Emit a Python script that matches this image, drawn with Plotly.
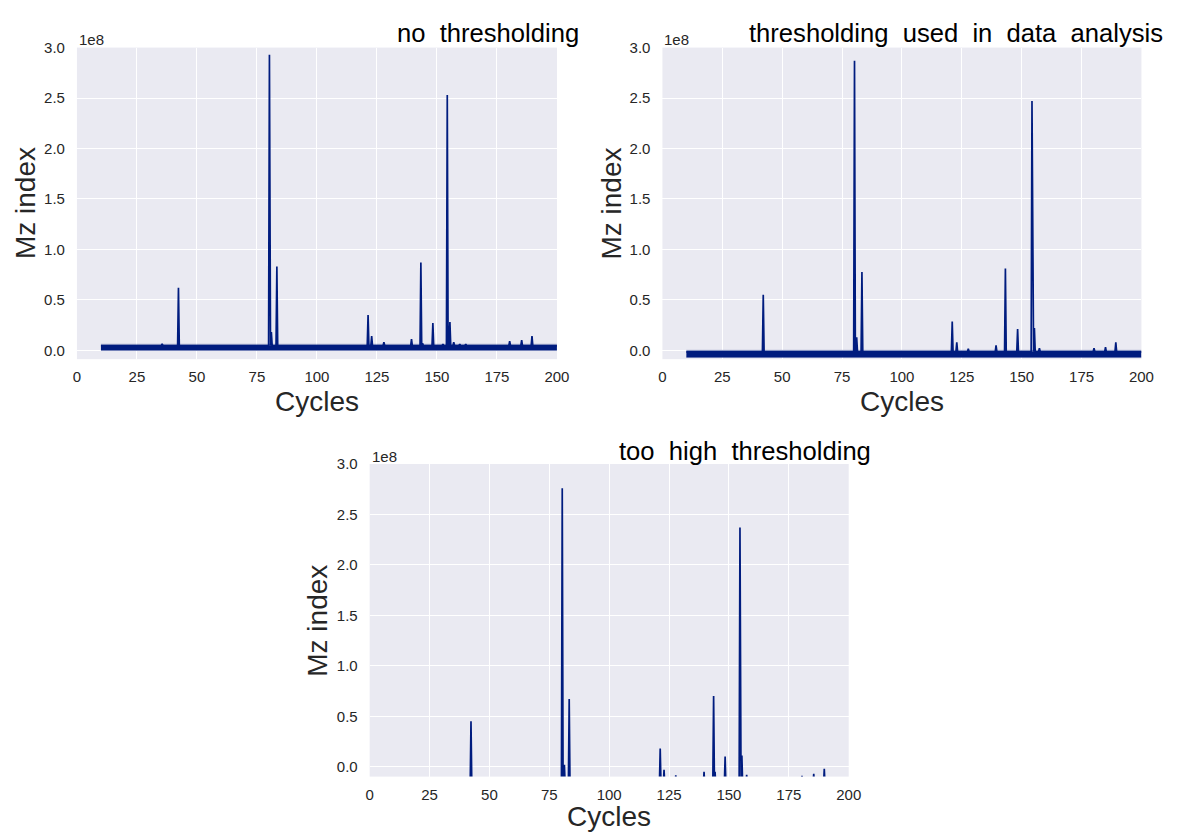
import plotly.graph_objects as go

# ---------------- data ----------------
TITLES = ["no \u00a0thresholding",
          "thresholding \u00a0used \u00a0in \u00a0data \u00a0analysis",
          "too \u00a0high \u00a0thresholding"]

X_TICKS = [0, 25, 50, 75, 100, 125, 150, 175, 200]
Y_TICKS = [0.0, 0.5e8, 1.0e8, 1.5e8, 2.0e8, 2.5e8, 3.0e8]
Y_TICK_TEXT = ["0.0", "0.5", "1.0", "1.5", "2.0", "2.5", "3.0"]

START_CYCLE = 10
END_CYCLE = 200

# panel 1: no thresholding
P1_CYCLES = [35.5, 42.3, 80.2, 81.0, 83.3, 121.3, 122.8, 127.9, 139.4, 143.3, 144.0,
             148.3, 152.5, 154.3, 155.4, 157.0, 159.5, 162.0, 180.3, 185.3, 189.6]
P1_VALUES = [0.065e8, 0.62e8, 2.93e8, 0.18e8, 0.83e8, 0.35e8, 0.14e8, 0.08e8, 0.11e8,
             0.87e8, 0.07e8, 0.27e8, 0.06e8, 2.53e8, 0.28e8, 0.08e8, 0.06e8, 0.06e8,
             0.09e8, 0.10e8, 0.14e8]
P1_BAND = [0.0, 0.045e8, 0.06e8]     # dark band bottom, dark band top, light top

# panel 2: thresholding used in data analysis
P2_CYCLES = [42.1, 80.2, 81.1, 83.3, 121.0, 122.9, 127.7, 139.3, 143.2, 148.3,
             154.3, 155.3, 157.4, 180.2, 185.0, 189.3]
P2_VALUES = [0.55e8, 2.87e8, 0.13e8, 0.775e8, 0.285e8, 0.08e8, 0.015e8, 0.05e8,
             0.81e8, 0.21e8, 2.47e8, 0.22e8, 0.02e8, 0.02e8, 0.03e8, 0.08e8]
P2_BAND = [-0.07e8, -0.015e8, 0.0]

# panel 3: too high thresholding
P3_CYCLES = [42.3, 80.4, 81.3, 83.3, 121.3, 122.9, 127.8, 139.6, 143.6, 144.2,
             148.4, 154.6, 155.4, 157.4, 180.5, 185.4, 189.8]
P3_VALUES = [0.45e8, 2.76e8, 0.02e8, 0.67e8, 0.18e8, -0.03e8, -0.085e8, -0.05e8,
             0.70e8, -0.05e8, 0.10e8, 2.37e8, 0.11e8, -0.08e8, -0.09e8, -0.07e8,
             -0.02e8]
P3_BASE = -0.2e8

# ---------------- style ----------------
W, H = 1185, 832
NAVY = "#001c7f"
BG = "#eaeaf2"
TXT = "#262626"
FONT = "Liberation Sans, Arial, sans-serif"
HALF = 0.35   # half width of a spike in cycles

# plot areas in pixels: (left, right, top, bottom)
AREAS = [(74, 561, 39, 354), (668, 1154, 39, 354), (371, 857, 460, 776)]
YRANGES = [[-0.088e8, 3.0e8], [-0.088e8, 3.0e8], [-0.098e8, 3.0e8]]
TITLE_POS = [(585, 24), (1178, 24), (882, 447)]
YLAB_X = [22, 616, 318]
XLAB_OFF = [43, 43, 40]


def spikes(cycles, values, base):
    xs, ys = [START_CYCLE], [base]
    for c, v in sorted(zip(cycles, values)):
        xs += [c - HALF, c, c + HALF]
        ys += [base, v, base]
    xs.append(END_CYCLE)
    ys.append(base)
    return xs, ys


fig = go.Figure()

panels = [(P1_CYCLES, P1_VALUES, P1_BAND), (P2_CYCLES, P2_VALUES, P2_BAND),
          (P3_CYCLES, P3_VALUES, None)]

for i, (cyc, val, band) in enumerate(panels):
    xa = "x" if i == 0 else f"x{i+1}"
    ya = "y" if i == 0 else f"y{i+1}"
    if band is not None:
        fig.add_trace(go.Scatter(x=[START_CYCLE, END_CYCLE], y=[band[0], band[0]],
                                 mode="lines", line=dict(color=NAVY, width=0.5),
                                 xaxis=xa, yaxis=ya, showlegend=False, hoverinfo="skip"))
        fig.add_trace(go.Scatter(x=[START_CYCLE, END_CYCLE], y=[band[1], band[1]],
                                 mode="lines", line=dict(color=NAVY, width=0.5),
                                 fill="tonexty", fillcolor=NAVY,
                                 xaxis=xa, yaxis=ya, showlegend=False, hoverinfo="skip"))
        fig.add_trace(go.Scatter(x=[START_CYCLE, END_CYCLE], y=[band[2], band[2]],
                                 mode="lines", line=dict(color="rgba(0,28,127,0.5)", width=0.5),
                                 fill="tonexty", fillcolor="rgba(0,28,127,0.45)",
                                 xaxis=xa, yaxis=ya, showlegend=False, hoverinfo="skip"))
        base = band[1]
    else:
        base = P3_BASE
    xs, ys = spikes(cyc, val, base)
    fig.add_trace(go.Scatter(x=xs, y=ys, mode="lines",
                             line=dict(color=NAVY, width=1.7),
                             xaxis=xa, yaxis=ya, showlegend=False, hoverinfo="skip"))

layout = dict(width=W, height=H, margin=dict(l=0, r=0, t=0, b=0),
              paper_bgcolor="white", plot_bgcolor=BG,
              font=dict(family=FONT, color=TXT))
annotations = []
for i, (l, r, t, b) in enumerate(AREAS):
    sfx = "" if i == 0 else str(i + 1)
    layout["xaxis" + sfx] = dict(
        domain=[l / W, r / W], anchor="y" + sfx, range=[0, 200],
        tickvals=X_TICKS, ticktext=[str(v) for v in X_TICKS],
        showgrid=True, gridcolor="white", gridwidth=1.3, zeroline=False,
        showline=False, ticks="outside", ticklen=4, tickcolor="rgba(0,0,0,0)",
        tickfont=dict(size=15, color=TXT, family=FONT))
    layout["yaxis" + sfx] = dict(
        domain=[1 - b / H, 1 - t / H], anchor="x" + sfx, range=YRANGES[i],
        tickvals=Y_TICKS, ticktext=Y_TICK_TEXT,
        showgrid=True, gridcolor="white", gridwidth=1.3, zeroline=False,
        showline=False, ticks="outside", ticklen=8, tickcolor="rgba(0,0,0,0)",
        tickfont=dict(size=15, color=TXT, family=FONT))
    tx, ty = TITLE_POS[i]
    annotations.append(dict(text=TITLES[i], x=tx / W, y=1 - ty / H, xref="paper", yref="paper",
                            xanchor="right", yanchor="middle", showarrow=False,
                            font=dict(size=25.6, color="black", family=FONT)))
    annotations.append(dict(text="Mz index", x=YLAB_X[i] / W, y=1 - (t + b) / 2 / H,
                            xref="paper", yref="paper", textangle=-90,
                            xanchor="center", yanchor="middle", showarrow=False,
                            font=dict(size=28, color=TXT, family=FONT)))
    annotations.append(dict(text="Cycles", x=(l + r) / 2 / W, y=1 - (b + XLAB_OFF[i]) / H,
                            xref="paper", yref="paper",
                            xanchor="center", yanchor="middle", showarrow=False,
                            font=dict(size=28, color=TXT, family=FONT)))
    annotations.append(dict(text="1e8", x=l / W, y=1 - (t - 8) / H,
                            xref="paper", yref="paper",
                            xanchor="left", yanchor="middle", showarrow=False,
                            font=dict(size=15, color=TXT, family=FONT)))
layout["annotations"] = annotations
fig.update_layout(**layout)

fig.write_html("out.html")
